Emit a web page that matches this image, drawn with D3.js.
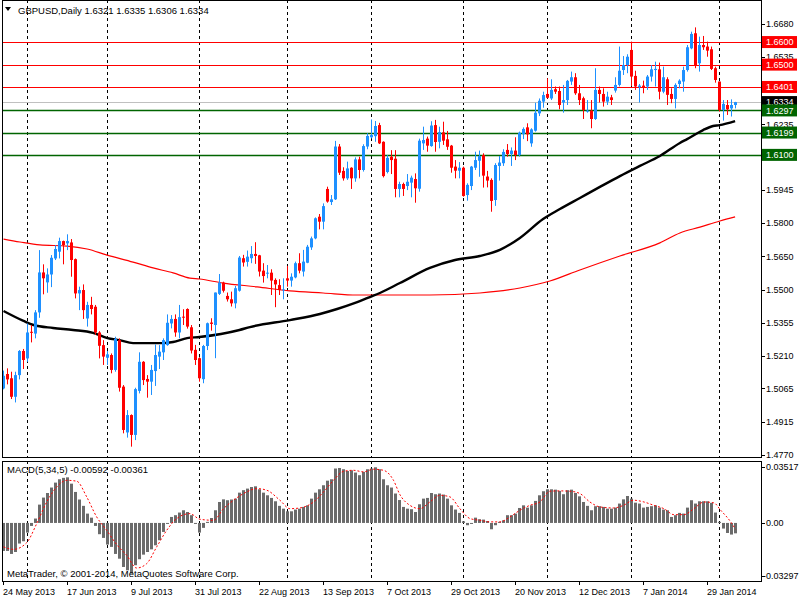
<!DOCTYPE html>
<html>
<head>
<meta charset="utf-8">
<title>GBPUSD Daily</title>
<script src="https://d3js.org/d3.v7.min.js"></script>
<style>
  body { margin: 0; background: #fff; }
  text { font-family: "Liberation Sans", Arial, sans-serif; }
</style>
</head>
<body>
<svg width="800" height="600"></svg>
<script>
// daily candles, [open, high, low, close], 24 May 2013 .. 7 Feb 2014
const bars = [
  [1.5065,1.5144,1.5061,1.5121],[1.5129,1.5154,1.5083,1.5105],[1.5110,1.5139,1.5018,1.5028],[1.5028,1.5139,1.5003,1.5124],
  [1.5124,1.5235,1.5105,1.5231],[1.5231,1.5240,1.5151,1.5191],[1.5198,1.5353,1.5183,1.5313],[1.5316,1.5346,1.5269,1.5312],
  [1.5308,1.5412,1.5287,1.5402],[1.5402,1.5678,1.5378,1.5579],[1.5579,1.5615,1.5482,1.5553],[1.5535,1.5597,1.5489,1.5570],
  [1.5570,1.5656,1.5514,1.5644],[1.5641,1.5700,1.5634,1.5683],[1.5671,1.5733,1.5641,1.5718],[1.5718,1.5720,1.5615,1.5700],
  [1.5708,1.5748,1.5678,1.5718],[1.5712,1.5727,1.5560,1.5634],[1.5638,1.5641,1.5464,1.5486],[1.5486,1.5516,1.5412,1.5501],
  [1.5501,1.5526,1.5373,1.5412],[1.5375,1.5449,1.5339,1.5435],[1.5435,1.5471,1.5393,1.5417],[1.5427,1.5435,1.5302,1.5313],
  [1.5313,1.5319,1.5198,1.5254],[1.5257,1.5279,1.5169,1.5206],[1.5201,1.5231,1.5169,1.5216],[1.5213,1.5220,1.5132,1.5147],
  [1.5147,1.5294,1.5139,1.5284],[1.5279,1.5287,1.5051,1.5068],[1.5073,1.5080,1.4866,1.4881],[1.4870,1.4969,1.4847,1.4947],
  [1.4947,1.4950,1.4807,1.4859],[1.4859,1.5068,1.4836,1.5062],[1.5054,1.5225,1.5043,1.5183],[1.5183,1.5186,1.5080,1.5102],
  [1.5107,1.5124,1.5024,1.5095],[1.5095,1.5169,1.5036,1.5147],[1.5142,1.5260,1.5076,1.5213],[1.5206,1.5257,1.5151,1.5228],
  [1.5225,1.5287,1.5191,1.5279],[1.5257,1.5393,1.5254,1.5356],[1.5353,1.5390,1.5331,1.5373],[1.5373,1.5393,1.5294,1.5313],
  [1.5313,1.5435,1.5287,1.5381],[1.5383,1.5416,1.5346,1.5380],[1.5417,1.5420,1.5330,1.5339],[1.5336,1.5346,1.5220,1.5233],
  [1.5236,1.5258,1.5169,1.5191],[1.5199,1.5203,1.5095,1.5110],[1.5106,1.5258,1.5088,1.5253],[1.5253,1.5357,1.5235,1.5354],
  [1.5357,1.5376,1.5321,1.5351],[1.5346,1.5490,1.5199,1.5490],[1.5484,1.5572,1.5479,1.5534],[1.5534,1.5538,1.5490,1.5498],
  [1.5475,1.5490,1.5450,1.5460],[1.5460,1.5494,1.5428,1.5442],[1.5442,1.5519,1.5420,1.5509],[1.5498,1.5652,1.5494,1.5645],
  [1.5642,1.5657,1.5605,1.5623],[1.5626,1.5676,1.5605,1.5649],[1.5642,1.5696,1.5620,1.5661],[1.5661,1.5713,1.5617,1.5652],
  [1.5655,1.5657,1.5561,1.5583],[1.5587,1.5620,1.5534,1.5563],[1.5575,1.5612,1.5553,1.5578],[1.5578,1.5593,1.5479,1.5543],
  [1.5546,1.5553,1.5425,1.5526],[1.5523,1.5549,1.5479,1.5501],[1.5500,1.5553,1.5460,1.5504],[1.5553,1.5608,1.5516,1.5543],
  [1.5543,1.5575,1.5516,1.5560],[1.5557,1.5627,1.5553,1.5620],[1.5620,1.5664,1.5575,1.5587],[1.5583,1.5679,1.5561,1.5627],
  [1.5622,1.5701,1.5620,1.5693],[1.5690,1.5738,1.5679,1.5730],[1.5730,1.5823,1.5726,1.5819],[1.5826,1.5838,1.5770,1.5804],
  [1.5804,1.5885,1.5770,1.5873],[1.5949,1.5959,1.5888,1.5893],[1.5891,1.5922,1.5878,1.5903],[1.5903,1.6162,1.5900,1.6137],
  [1.6137,1.6148,1.6011,1.6021],[1.6029,1.6045,1.5986,1.5996],[1.5996,1.6070,1.5989,1.6040],[1.6043,1.6045,1.5949,1.5996],
  [1.5996,1.6089,1.5981,1.6080],[1.6080,1.6092,1.5996,1.6033],[1.6033,1.6147,1.6026,1.6139],[1.6137,1.6196,1.6125,1.6184],
  [1.6178,1.6257,1.6173,1.6188],[1.6183,1.6250,1.6158,1.6228],[1.6232,1.6242,1.6148,1.6151],[1.6158,1.6160,1.6000,1.6006],
  [1.6024,1.6099,1.6018,1.6087],[1.6092,1.6121,1.6015,1.6077],[1.6083,1.6121,1.5912,1.5949],[1.5949,1.5981,1.5912,1.5971],
  [1.5971,1.5977,1.5918,1.5949],[1.5962,1.6015,1.5944,1.5981],[1.5977,1.6008,1.5912,1.5999],[1.5993,1.6018,1.5888,1.5952],
  [1.5950,1.6172,1.5937,1.6163],[1.6151,1.6225,1.6122,1.6166],[1.6172,1.6181,1.6114,1.6141],[1.6139,1.6249,1.6136,1.6230],
  [1.6232,1.6255,1.6114,1.6157],[1.6158,1.6225,1.6129,1.6201],[1.6200,1.6247,1.6144,1.6163],[1.6169,1.6206,1.6122,1.6136],
  [1.6141,1.6144,1.6021,1.6043],[1.6048,1.6077,1.5996,1.6030],[1.6030,1.6068,1.5996,1.6043],[1.6043,1.6048,1.5915,1.5918],
  [1.5922,1.5974,1.5897,1.5967],[1.5962,1.6051,1.5944,1.6048],[1.6043,1.6114,1.6033,1.6077],[1.6074,1.6119,1.6003,1.6095],
  [1.6099,1.6107,1.5955,1.6008],[1.6004,1.6029,1.5956,1.5986],[1.5989,1.5996,1.5848,1.5896],[1.5900,1.6063,1.5874,1.6055],
  [1.6051,1.6095,1.5986,1.6066],[1.6063,1.6125,1.6051,1.6113],[1.6122,1.6148,1.6092,1.6104],[1.6104,1.6133,1.6051,1.6119],
  [1.6119,1.6178,1.6077,1.6099],[1.6099,1.6203,1.6092,1.6198],[1.6192,1.6222,1.6170,1.6215],[1.6222,1.6240,1.6161,1.6191],
  [1.6151,1.6218,1.6136,1.6213],[1.6207,1.6331,1.6203,1.6287],[1.6284,1.6350,1.6272,1.6340],[1.6336,1.6380,1.6309,1.6365],
  [1.6370,1.6439,1.6350,1.6353],[1.6350,1.6435,1.6343,1.6388],[1.6391,1.6403,1.6370,1.6380],[1.6383,1.6403,1.6302,1.6321],
  [1.6332,1.6410,1.6287,1.6343],[1.6343,1.6432,1.6321,1.6428],[1.6425,1.6469,1.6410,1.6444],[1.6444,1.6462,1.6366,1.6373],
  [1.6373,1.6410,1.6321,1.6343],[1.6351,1.6358,1.6259,1.6299],[1.6292,1.6343,1.6287,1.6296],[1.6296,1.6343,1.6218,1.6259],
  [1.6259,1.6484,1.6255,1.6388],[1.6388,1.6403,1.6332,1.6370],[1.6370,1.6395,1.6314,1.6336],[1.6336,1.6380,1.6321,1.6358],
  [1.6355,1.6366,1.6321,1.6343],[1.6385,1.6444,1.6376,1.6410],[1.6410,1.6580,1.6403,1.6473],[1.6476,1.6538,1.6454,1.6498],
  [1.6498,1.6546,1.6462,1.6535],[1.6565,1.6602,1.6405,1.6447],[1.6450,1.6473,1.6388,1.6403],[1.6400,1.6414,1.6332,1.6407],
  [1.6407,1.6429,1.6373,1.6400],[1.6403,1.6454,1.6388,1.6447],[1.6447,1.6498,1.6425,1.6479],[1.6476,1.6513,1.6403,1.6481],
  [1.6479,1.6509,1.6346,1.6380],[1.6380,1.6491,1.6373,1.6444],[1.6435,1.6444,1.6321,1.6366],[1.6370,1.6395,1.6329,1.6348],
  [1.6348,1.6417,1.6306,1.6410],[1.6414,1.6435,1.6395,1.6429],[1.6425,1.6491,1.6380,1.6476],[1.6476,1.6587,1.6469,1.6577],
  [1.6572,1.6646,1.6568,1.6636],[1.6639,1.6665,1.6484,1.6498],[1.6506,1.6624,1.6469,1.6587],[1.6587,1.6627,1.6565,1.6577],
  [1.6580,1.6602,1.6535,1.6562],[1.6568,1.6580,1.6476,1.6481],[1.6484,1.6491,1.6420,1.6432],[1.6425,1.6425,1.6292,1.6299],
  [1.6299,1.6343,1.6252,1.6326],[1.6321,1.6343,1.6277,1.6302],[1.6306,1.6346,1.6270,1.6321],[1.6321,1.6335,1.6306,1.6334]
];

// moving averages, [bar index, price]
const maBlack = [
  [0,1.5408],[5,1.5364],[7.5,1.5346],[12.4,1.5333],[17.4,1.5324],[22.4,1.5311],[26,1.5288],[29,1.5279],
  [32.4,1.5266],[37.4,1.5266],[40,1.5266],[42.4,1.5271],[45.9,1.5288],[49,1.5293],[59,1.5324],[61.6,1.5337],
  [71.6,1.5368],[79.1,1.5395],[83.4,1.5417],[87.9,1.5444],[91.6,1.5470],[94.1,1.5488],[99.1,1.5532],[106.6,1.5599],
  [112.9,1.5634],[119.1,1.5652],[124.1,1.5679],[129.1,1.5732],[134.9,1.5816],[139.1,1.5860],[144.1,1.5909],
  [149.1,1.5958],[154.1,1.6006],[159.1,1.6051],[164.1,1.6095],[169.1,1.6153],[170.9,1.6170],[174.9,1.6210],
  [177.4,1.6228],[179,1.6232],[182.9,1.6250]
];
const maRed = [
  [0,1.5727],[4.1,1.5714],[9.1,1.5701],[15.9,1.5696],[20.9,1.5683],[25.9,1.5656],[32.4,1.5625],[37.4,1.5599],
  [42.4,1.5577],[46.6,1.5554],[49,1.5550],[54.9,1.5532],[63.4,1.5515],[71.6,1.5497],[79.9,1.5488],[88.4,1.5479],
  [106.6,1.5479],[119.1,1.5488],[129.1,1.5510],[136.6,1.5541],[144.1,1.5590],[154.1,1.5652],[164.1,1.5710],
  [169.1,1.5754],[174.1,1.5780],[179.1,1.5807],[182.9,1.5825]
];

// MACD(5,34,5) histogram, one value per bar
const macdHist = [
  -0.0159,-0.0159,-0.0176,-0.0165,-0.0117,-0.0104,-0.0055,-0.0017,0.0025,0.0104,
  0.0144,0.0170,0.0201,0.0229,0.0248,0.0256,0.0259,0.0223,0.0176,0.0133,
  0.0097,0.0053,0.0030,-0.0017,-0.0064,-0.0085,-0.0123,-0.0136,-0.0176,-0.0203,
  -0.0250,-0.0269,-0.0288,-0.0240,-0.0206,-0.0180,-0.0165,-0.0150,-0.0127,-0.0098,
  -0.0051,-0.0004,0.0034,0.0044,0.0059,0.0072,0.0062,0.0044,-0.0004,-0.0055,
  -0.0028,0.0006,0.0028,0.0072,0.0119,0.0134,0.0129,0.0133,0.0138,0.0172,
  0.0186,0.0195,0.0204,0.0208,0.0191,0.0172,0.0157,0.0142,0.0123,0.0097,
  0.0081,0.0066,0.0066,0.0076,0.0081,0.0091,0.0100,0.0138,0.0172,0.0191,
  0.0214,0.0240,0.0248,0.0309,0.0312,0.0305,0.0295,0.0299,0.0286,0.0271,
  0.0290,0.0305,0.0309,0.0316,0.0305,0.0248,0.0214,0.0201,0.0167,0.0130,
  0.0091,0.0081,0.0078,0.0062,0.0106,0.0138,0.0142,0.0170,0.0163,0.0167,
  0.0161,0.0138,0.0100,0.0076,0.0057,0.0009,-0.0013,-0.0004,0.0030,0.0021,
  0.0019,0.0011,-0.0036,-0.0013,0.0006,0.0015,0.0044,0.0044,0.0053,0.0085,
  0.0100,0.0087,0.0100,0.0125,0.0157,0.0180,0.0191,0.0191,0.0189,0.0182,
  0.0163,0.0186,0.0189,0.0170,0.0151,0.0119,0.0097,0.0072,0.0095,0.0095,
  0.0091,0.0081,0.0081,0.0087,0.0110,0.0134,0.0153,0.0138,0.0115,0.0110,
  0.0087,0.0091,0.0095,0.0100,0.0087,0.0076,0.0072,0.0034,0.0044,0.0057,
  0.0053,0.0087,0.0129,0.0110,0.0123,0.0123,0.0123,0.0114,0.0059,0.0006,
  -0.0032,-0.0057,-0.0066,-0.0059
];
// signal line, [bar index, value]
const macdSignal = [
  [0,-0.0136],[2.5,-0.0150],[5.8,-0.0112],[8.3,-0.0004],[10.8,0.0119],[13.3,0.0204],[15.8,0.0242],[18.3,0.0237],
  [20.8,0.0148],[23.3,0.0034],[25.8,-0.0042],[28.3,-0.0123],[30.8,-0.0184],[33.3,-0.0256],[35.8,-0.0231],
  [38.3,-0.0136],[40.8,-0.0042],[43.3,0.0025],[46.6,0.0053],[49.1,0.0021],[52.5,0.0015],[55,0.0081],[57.5,0.0129],
  [60.8,0.0176],[63.3,0.0195],[65.8,0.0186],[69.1,0.0129],[71.6,0.0081],[74.1,0.0085],[77.5,0.0119],[80,0.0176],
  [82.5,0.0242],[85,0.0293],[87.5,0.0299],[90,0.0290],[92.5,0.0305],[95,0.0299],[97.5,0.0242],[99.1,0.0161],
  [101.6,0.0100],[104.1,0.0081],[106.6,0.0119],[109.1,0.0157],[111.6,0.0148],[114.1,0.0081],[116.6,0.0025],
  [119.1,0.0015],[121.6,0.0006],[124.1,0.0006],[126.6,0.0034],[129.1,0.0072],[131.6,0.0100],[134.1,0.0119],
  [136.6,0.0180],[139.1,0.0182],[141.6,0.0180],[144.1,0.0167],[146.6,0.0119],[149.1,0.0091],[152.5,0.0085],
  [155,0.0100],[157.5,0.0129],[160.1,0.0119],[162.6,0.0100],[165.1,0.0081],[167.6,0.0047],[170.1,0.0047],
  [172.6,0.0081],[175.1,0.0119],[177.6,0.0114],[179.3,0.0072],[181.8,0.0006],[183,-0.0036]
];

// visible price scale labels (the ones under the level tags are hidden in the original)
const priceTicks = [1.6680,1.6535,1.6235,1.5945,1.5800,1.5650,1.5500,1.5355,1.5210,1.5065,1.4915,1.4770];
const redLevels = [1.6600, 1.6500, 1.6401];
const greenLevels = [1.6297, 1.6199, 1.6100];
const bidPrice = 1.6334;
const dateLabels = ["24 May 2013","17 Jun 2013","9 Jul 2013","31 Jul 2013","22 Aug 2013","13 Sep 2013",
                    "7 Oct 2013","29 Oct 2013","20 Nov 2013","12 Dec 2013","7 Jan 2014","29 Jan 2014"];
const dateBars = [0,16,32,48,64,80,96,112,128,144,160,176];
const monthStartBars = [6,26,49,71,92,115,136,157,179];

const svg = d3.select("svg");
const left = 2, right = 761, mainTop = 0, mainBottom = 457, macdTop = 461, macdBottom = 581;

const x = d3.scaleLinear().domain([0, 183]).range([3.5, 735.5]);
const y = d3.scaleLinear().domain([1.4770, 1.6680]).range([455, 24]);
const ym = d3.scaleLinear().domain([-0.03297, 0.03517]).range([macdBottom, macdTop]);

const bull = "#1e90ff", bear = "#ff0000";

svg.append("rect").attr("width", 800).attr("height", 600).attr("fill", "#fff");

const defs = svg.append("defs");
defs.append("clipPath").attr("id", "clipMain").append("rect")
    .attr("x", left + 1).attr("y", mainTop + 1).attr("width", right - left - 1).attr("height", mainBottom - mainTop - 1);
defs.append("clipPath").attr("id", "clipMacd").append("rect")
    .attr("x", left + 1).attr("y", macdTop + 1).attr("width", right - left - 1).attr("height", macdBottom - macdTop - 1);

const main = svg.append("g").attr("clip-path", "url(#clipMain)");
const sub = svg.append("g").attr("clip-path", "url(#clipMacd)");

// month separators
[[main, mainTop, mainBottom], [sub, macdTop, macdBottom]].forEach(([g, t, b]) => {
    g.selectAll(".grid").data(monthStartBars).enter().append("line")
        .attr("x1", d => x(d)).attr("x2", d => x(d))
        .attr("y1", t).attr("y2", b)
        .attr("stroke", "#000").attr("stroke-dasharray", "3,3");
});

// horizontal levels
const levelLine = (v, c) => main.append("line")
    .attr("x1", left).attr("x2", right)
    .attr("y1", Math.round(y(v)) + 0.5).attr("y2", Math.round(y(v)) + 0.5)
    .attr("stroke", c).attr("stroke-width", 1);
redLevels.forEach(v => levelLine(v, "#ff0000"));
greenLevels.forEach(v => levelLine(v, "#006400").attr("stroke-width", 1.3));
levelLine(bidPrice, "#c0c0c0");

// moving averages
const maLine = d3.line().x(d => x(d[0])).y(d => y(d[1])).curve(d3.curveMonotoneX);
main.append("path").attr("d", maLine(maRed)).attr("fill", "none").attr("stroke", "#ff0000").attr("stroke-width", 1.2);
main.append("path").attr("d", maLine(maBlack)).attr("fill", "none").attr("stroke", "#000").attr("stroke-width", 2.4);

// candles
const candle = main.selectAll(".candle").data(bars).enter().append("g");
candle.append("line")
    .attr("x1", (d, i) => x(i)).attr("x2", (d, i) => x(i))
    .attr("y1", d => y(d[1])).attr("y2", d => y(d[2]))
    .attr("stroke", d => d[3] >= d[0] ? bull : bear);
candle.append("rect")
    .attr("x", (d, i) => x(i) - 1.5).attr("width", 3)
    .attr("y", d => y(Math.max(d[0], d[3])))
    .attr("height", d => Math.max(1, Math.abs(y(d[0]) - y(d[3]))))
    .attr("fill", d => d[3] >= d[0] ? bull : bear);

// MACD histogram and signal
sub.selectAll(".hist").data(macdHist).enter().append("rect")
    .attr("x", (d, i) => x(i) - 1.5).attr("width", 3)
    .attr("y", d => Math.min(ym(d), ym(0)))
    .attr("height", d => Math.max(1, Math.abs(ym(d) - ym(0))))
    .attr("fill", "#6b6b6b");
sub.append("path")
    .attr("d", d3.line().x(d => x(d[0])).y(d => ym(d[1])).curve(d3.curveMonotoneX)(macdSignal))
    .attr("fill", "none").attr("stroke", "#ff0000").attr("stroke-width", 1).attr("stroke-dasharray", "2,2");

// frames
[[mainTop, mainBottom], [macdTop, macdBottom]].forEach(([t, b]) => {
    svg.append("rect").attr("x", left + 0.5).attr("y", t + 0.5)
        .attr("width", right - left).attr("height", b - t)
        .attr("fill", "none").attr("stroke", "#000");
});

// price axis
const axisFont = 9;
svg.selectAll(".ptick").data(priceTicks).enter().append("line")
    .attr("x1", right).attr("x2", right + 4)
    .attr("y1", d => Math.round(y(d)) + 0.5).attr("y2", d => Math.round(y(d)) + 0.5)
    .attr("stroke", "#000");
svg.selectAll(".plabel").data(priceTicks).enter().append("text")
    .attr("x", right + 5).attr("y", d => y(d)).attr("dy", "0.35em")
    .attr("font-size", axisFont).attr("fill", "#000")
    .text(d => d.toFixed(4));

// level tags on the price axis
const tag = (v, bg) => {
    svg.append("rect").attr("x", right + 1).attr("y", y(v) - 6).attr("width", 35).attr("height", 12).attr("fill", bg);
    svg.append("text").attr("x", right + 5).attr("y", y(v)).attr("dy", "0.35em")
        .attr("font-size", axisFont).attr("fill", "#fff").text(v.toFixed(4));
};
redLevels.forEach(v => tag(v, "#ff0000"));
tag(bidPrice, "#000");
greenLevels.forEach(v => tag(v, "#006400"));

// MACD axis
const macdTicks = [[0.03517, ym(0.03517) + 6], [0, ym(0)], [-0.03297, ym(-0.03297) - 5]];
macdTicks.forEach(([v, py]) => {
    svg.append("line").attr("x1", right).attr("x2", right + 4)
        .attr("y1", Math.round(py) + 0.5).attr("y2", Math.round(py) + 0.5).attr("stroke", "#000");
    svg.append("text").attr("x", v < 0 ? right + 2 : right + 5).attr("y", py).attr("dy", "0.35em")
        .attr("font-size", axisFont).attr("fill", "#000")
        .text(v === 0 ? "0.00" : v.toFixed(5));
});

// time axis
dateBars.forEach((b, k) => {
    svg.append("line").attr("x1", x(b)).attr("x2", x(b))
        .attr("y1", macdBottom).attr("y2", macdBottom + 4).attr("stroke", "#000");
    svg.append("text").attr("x", x(b) - 0.5).attr("y", 595)
        .attr("font-size", axisFont).attr("fill", "#000").text(dateLabels[k]);
});

// captions
svg.append("path").attr("d", "M5,7 L11,7 L8,11 Z").attr("fill", "#000");
svg.append("text").attr("x", 18).attr("y", 14).attr("font-size", 9.5).attr("fill", "#000")
    .text("GBPUSD,Daily  1.6321 1.6335 1.6306 1.6334");
svg.append("text").attr("x", 7).attr("y", 473).attr("font-size", 9.5).attr("fill", "#000")
    .text("MACD(5,34,5) -0.00592 -0.00361");
svg.append("text").attr("x", 7).attr("y", 577).attr("font-size", 9.5).attr("fill", "#000")
    .text("MetaTrader, \u00a9 2001-2014, MetaQuotes Software Corp.");
</script>
</body>
</html>
